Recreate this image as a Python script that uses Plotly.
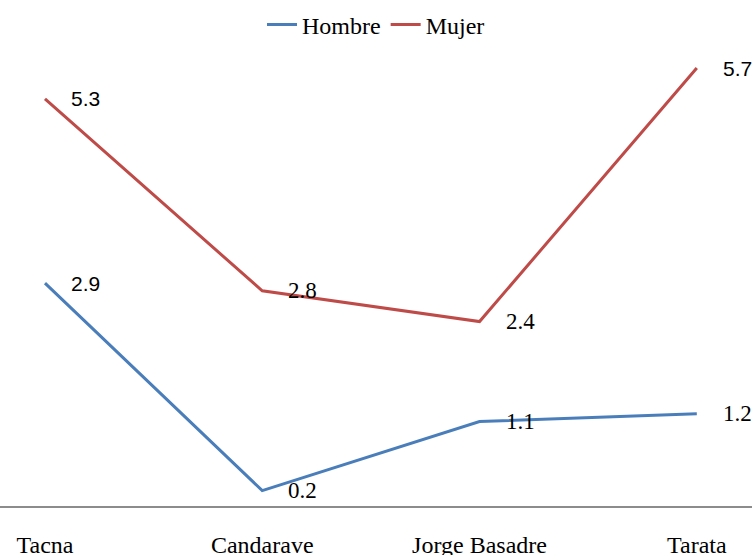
import plotly.graph_objects as go

categories = ["Tacna", "Candarave", "Jorge Basadre", "Tarata"]
hombre = [2.9, 0.2, 1.1, 1.2]
mujer = [5.3, 2.8, 2.4, 5.7]

SERIF = "Liberation Serif, Times New Roman, serif"
SANS = "Liberation Sans, Arial, sans-serif"
BLUE = "#4A7EBB"
RED = "#BE4B48"

fig = go.Figure()
fig.add_trace(go.Scatter(x=categories, y=hombre, mode="lines", name="Hombre",
                         line=dict(color=BLUE, width=3)))
fig.add_trace(go.Scatter(x=categories, y=mujer, mode="lines", name="Mujer",
                         line=dict(color=RED, width=3)))

# label fonts as they appear in the reference
hombre_fonts = [SANS, SERIF, SERIF, SERIF]
mujer_fonts = [SANS, SERIF, SERIF, SANS]

annotations = []
for vals, fonts in ((hombre, hombre_fonts), (mujer, mujer_fonts)):
    for c, v, f in zip(categories, vals, fonts):
        annotations.append(dict(
            x=c, y=v, xref="x", yref="y", text=f"{v:.1f}", showarrow=False,
            xanchor="left", yanchor="middle", xshift=24,
            font=dict(family=f, size=21 if f == SANS else 23, color="#000000")))

fig.update_layout(
    width=752, height=555,
    margin=dict(l=0, r=0, t=40, b=49, autoexpand=False),
    paper_bgcolor="white", plot_bgcolor="white",
    font=dict(family=SERIF, size=24, color="#000000"),
    showlegend=True,
    legend=dict(orientation="h", x=0.5, xanchor="center", y=0.955, yanchor="middle",
                yref="container",
                font=dict(family=SERIF, size=24, color="#000000"),
                bgcolor="rgba(0,0,0,0)"),
    annotations=annotations,
    xaxis=dict(type="category", range=[-0.207, 3.254], showgrid=False,
               showline=True, linecolor="#8C8C8C", linewidth=2,
               ticks="", ticklabelstandoff=16, zeroline=False,
               tickfont=dict(family=SERIF, size=24, color="#000000")),
    yaxis=dict(range=[0, 6.065], showgrid=False, showline=False, zeroline=False,
               showticklabels=False, ticks=""),
)

fig.write_html(
    "out.html",
    config={"displayModeBar": False},
    post_script="document.body.style.margin='0';document.body.style.overflow='hidden';",
)
